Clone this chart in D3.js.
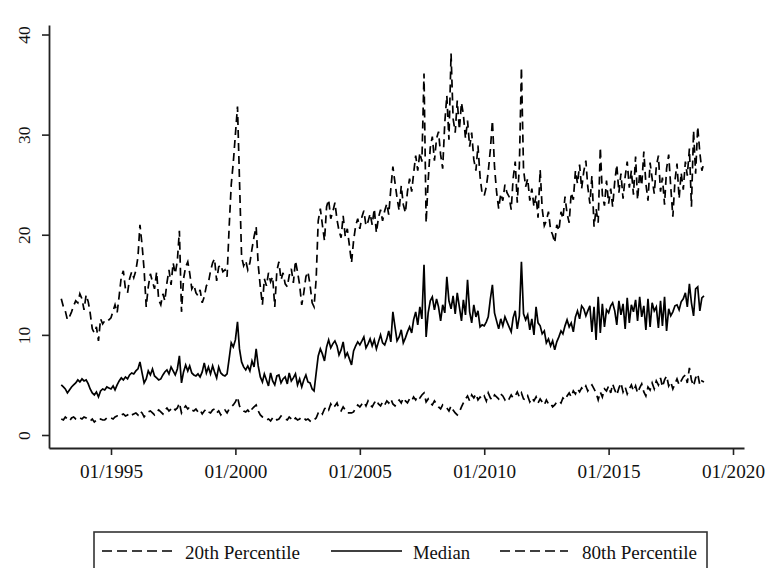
<!DOCTYPE html>
<html>
<head>
<meta charset="utf-8">
<script src="https://cdn.jsdelivr.net/npm/d3@7"></script>
<style>
  html, body { margin: 0; padding: 0; background: #fff; }
  svg { display: block; }
  text { font-family: "Liberation Serif", "Times New Roman", serif; fill: #111; }
</style>
</head>
<body>
<svg id="chart" width="766" height="568"></svg>
<script>
// Monthly series, 01/1993 .. 11/2018 (one row per year)
const firstMonth = new Date(1993, 0, 1);

const p20 = [
  1.6, 1.5, 1.8, 1.6, 1.4, 1.7, 1.8, 1.6, 1.5, 1.7, 1.6, 1.8,
  1.7, 1.5, 1.4, 1.6, 1.3, 1.5, 1.4, 1.6, 1.5, 1.5, 1.7, 1.6,
  1.7, 1.6, 1.8, 1.9, 1.8, 2.0, 2.1, 1.9, 2.0, 2.2, 2.0, 2.1,
  2.2, 2.0, 2.4, 2.2, 1.8, 2.1, 2.3, 2.4, 2.2, 2.0, 2.3, 2.5,
  2.3, 2.1, 2.5, 2.7, 2.4, 2.6, 2.8, 2.5, 2.7, 3.2, 2.2, 2.6,
  2.9, 2.6, 2.8, 2.5, 2.4, 2.6, 2.3, 2.5, 2.1, 2.4, 2.6, 2.3,
  2.2, 2.5, 2.6, 2.2, 2.4, 2.0, 2.3, 2.5, 2.2, 2.6, 2.8, 3.0,
  3.3, 3.8, 2.9, 2.6, 2.4, 2.3, 2.5, 2.2, 2.6, 2.8, 3.0, 2.4,
  2.0, 1.8, 1.7, 1.5, 1.6, 1.4, 1.7, 1.8, 1.5, 1.6, 1.9, 1.7,
  1.6, 1.5, 1.8, 1.6, 1.4, 1.7, 1.5, 1.6, 1.8, 1.7, 1.5, 1.6,
  1.4, 1.3, 1.5, 1.7, 2.2, 2.4, 2.1, 2.6, 2.8, 2.5, 3.1, 2.7,
  2.9, 3.2, 2.6, 2.4, 2.8, 2.5, 2.2, 2.2, 2.2, 2.3, 2.7, 3.0,
  2.8, 3.1, 3.3, 2.9, 3.4, 3.0, 2.8, 3.2, 3.5, 3.1, 2.9, 3.3,
  3.0, 3.4, 3.2, 3.6, 3.1, 2.9, 3.3, 3.5, 3.2, 3.7, 3.4, 3.2,
  3.6, 3.4, 3.8, 3.5, 3.9, 3.7, 4.0, 4.2, 3.3, 3.6, 3.2, 3.0,
  3.4, 3.1, 2.8, 2.6, 3.0, 2.8, 2.7, 2.4, 2.9, 2.5, 2.2, 2.0,
  2.3, 2.8, 3.2, 3.6, 3.9, 3.4, 4.0, 3.7, 4.1, 3.5, 3.8, 3.6,
  3.9, 3.4, 4.2, 3.7, 3.5, 4.0, 3.8, 3.6, 4.1, 3.9, 3.5, 3.8,
  3.6, 4.0, 3.7, 3.9, 4.3, 3.8, 4.2, 3.6, 3.5, 3.9, 3.3, 3.7,
  3.4, 3.8, 3.2, 3.6, 3.3, 3.0, 3.5, 3.1, 3.2, 2.8, 3.0, 3.3,
  3.4, 3.2, 3.7, 3.5, 3.9, 4.2, 3.8, 4.4, 4.1, 4.6, 4.3, 4.7,
  4.5, 4.9, 4.4, 4.8, 5.0, 4.6, 4.2, 3.5, 4.3, 3.8, 4.6, 4.4,
  4.9, 4.2, 5.1, 4.5, 4.0, 4.7, 5.2, 4.3, 4.8, 4.1, 4.6, 5.0,
  4.4, 4.9, 4.2, 4.7, 5.1, 4.3, 3.9, 4.8, 4.5, 5.2, 4.6, 5.4,
  5.0, 5.7, 4.8, 5.5, 5.9, 4.9, 5.3, 4.6, 5.1, 5.6, 5.0, 5.4,
  5.8, 6.0, 5.2, 6.7, 5.5, 4.9, 5.7, 6.1, 5.0, 5.4, 5.3
];

const p50 = [
  5.0, 4.8, 4.6, 4.2, 4.5, 4.8, 5.0, 5.2, 5.5, 5.3, 5.6, 5.4,
  5.5, 5.1, 4.6, 4.2, 4.0, 4.3, 3.8, 4.4, 4.6, 4.5, 4.8, 4.7,
  4.6, 4.9, 4.5, 5.0, 5.4, 5.7, 5.5, 5.8, 5.6, 6.0, 6.2, 6.1,
  6.4, 6.6, 7.3, 6.2, 5.2, 5.6, 6.4, 6.0, 6.6, 5.9, 5.7, 5.5,
  5.6, 6.0, 6.3, 6.5, 6.1, 6.8, 6.4, 6.0, 6.6, 7.9, 5.2, 6.3,
  7.0, 6.4, 6.9, 6.2, 6.0, 5.9, 6.1, 5.8, 6.3, 7.2, 6.2, 6.8,
  6.1, 6.9, 6.3, 5.7, 6.8, 6.2, 6.0, 5.9, 6.1, 7.6, 9.2, 8.8,
  9.5, 11.3, 8.6, 7.3, 6.8, 6.5, 6.9, 6.4, 7.4, 6.8, 8.6, 6.9,
  5.8, 5.3, 6.1, 5.5, 4.9, 6.2, 5.4, 5.0, 5.9, 6.0, 5.2, 5.6,
  5.8, 5.1, 6.2, 5.4, 5.7, 6.1, 5.0, 5.6, 4.8, 5.5, 6.0, 5.3,
  5.2, 4.6, 4.4, 6.2, 7.9, 8.6, 8.1, 7.4, 8.8, 9.5, 8.7, 9.1,
  9.4, 8.9, 8.0, 8.5, 9.3, 7.8, 8.2, 7.6, 7.0, 8.4, 8.9, 9.3,
  9.0, 9.4, 9.8, 8.7, 9.1, 9.6, 8.9, 9.5, 8.6, 9.3, 10.0, 9.2,
  9.0, 9.6, 10.4, 9.3, 12.3, 10.8, 9.4, 9.8, 10.5, 9.2, 9.7, 10.3,
  10.8, 10.2, 11.5, 12.3, 11.0, 12.8, 11.6, 17.0, 9.8, 12.2, 13.4, 13.8,
  12.5, 13.6, 12.8, 11.4, 13.0, 12.2, 15.8, 13.4, 12.6, 13.9, 12.1, 14.2,
  12.8, 11.4, 13.5, 12.0, 15.5, 12.3, 11.2, 13.0, 11.8, 12.4, 10.8, 11.0,
  10.9, 11.3, 11.8, 13.6, 15.0, 12.2, 11.4, 10.6, 11.6, 10.9, 11.8, 11.3,
  10.8, 10.3, 11.7, 12.4, 10.6, 11.9, 17.3, 12.1, 11.5, 12.0, 10.5, 11.6,
  10.0, 12.8, 11.2, 10.9, 10.1, 10.4, 9.2, 9.6, 8.9, 9.4, 8.5, 9.3,
  9.8, 10.4, 10.1, 10.9, 11.5, 10.8, 11.2, 10.3, 11.8, 12.4, 11.6, 12.9,
  12.6, 11.9, 12.4, 12.9, 10.3, 12.8, 9.5, 13.8, 10.2, 13.1, 10.8, 12.5,
  12.2, 12.9, 13.2, 12.4, 11.0, 13.4, 12.0, 13.1, 10.6, 13.7, 11.2, 13.0,
  12.3, 13.5, 11.4, 13.8, 11.8, 12.9, 10.5, 13.6, 10.8, 13.2, 12.4, 12.8,
  10.7, 13.4, 10.9, 13.8, 10.4, 12.6, 11.9, 12.3, 12.9, 13.0, 12.5, 13.3,
  13.6, 14.2, 12.8, 15.1, 13.2, 11.9, 14.6, 14.8, 12.4, 13.7, 13.9
];

const p80 = [
  13.6, 12.8, 12.4, 11.5, 11.8, 12.3, 12.9, 13.4, 13.2, 14.1, 13.6, 12.5,
  14.0, 13.3, 12.2, 10.6, 10.2, 10.8, 9.4, 11.6, 11.1, 11.4, 11.3, 11.5,
  11.7, 12.4, 13.0, 12.2, 13.9, 15.8, 16.4, 14.6, 14.2, 15.6, 16.3, 15.7,
  16.4, 17.8, 21.0, 19.0, 16.5, 12.8, 14.8, 16.1, 15.3, 14.6, 16.3, 13.5,
  13.0, 14.1, 13.4, 15.2, 16.5, 15.0, 17.2, 16.1, 17.4, 20.4, 12.3, 15.6,
  16.8, 17.3, 16.2, 14.6, 15.0, 14.2, 13.9, 14.5, 13.2, 13.8, 14.9, 15.2,
  16.4, 17.2, 17.6, 15.4, 16.8, 17.0, 16.3, 16.5, 15.8, 20.7, 25.0, 27.2,
  30.0, 32.8, 25.5, 17.8, 16.9, 17.4, 16.5, 17.2, 18.6, 19.8, 20.8, 17.0,
  14.8, 13.0, 15.6, 14.9, 16.2, 15.3, 15.8, 12.8, 16.4, 17.3, 15.5, 16.2,
  15.1, 14.8, 15.9, 16.6, 15.2, 17.4, 16.3, 15.0, 13.0, 14.2, 15.8, 16.3,
  15.0, 13.2, 12.8, 15.6, 21.4, 22.6, 21.0, 19.4, 22.8, 23.5, 21.6, 22.3,
  23.2, 21.5, 20.4, 19.7, 21.9, 19.8, 20.6, 18.9, 17.2, 19.4, 20.9, 21.6,
  20.6, 21.8, 22.4, 20.9, 21.3, 22.1, 21.0, 22.6, 20.2, 21.7, 22.5, 21.4,
  22.4, 23.1, 22.0, 24.6, 26.8, 25.2, 23.7, 22.4, 24.9, 23.0, 22.2, 24.3,
  25.6, 24.3, 26.1, 27.9, 26.4, 28.2, 27.3, 36.1, 21.2, 25.4, 28.7, 29.8,
  27.4, 29.6, 30.3, 28.0, 26.6, 31.2, 33.9, 29.5, 38.1, 31.6, 30.2, 33.4,
  30.5, 33.2, 32.0, 29.6, 31.4, 28.8, 30.2, 27.5, 26.4, 28.9, 25.8, 24.1,
  23.9, 24.8, 26.3, 28.5, 31.4, 26.8, 24.3, 22.6, 24.1, 23.4, 25.0, 24.2,
  23.8, 22.5, 25.6, 27.3, 23.2, 26.9, 36.7, 26.5, 24.8, 25.6, 23.4, 24.6,
  22.8, 23.9, 21.7, 26.5, 22.6, 20.9, 21.4, 22.3, 20.5, 20.0, 19.2, 21.0,
  20.4, 22.3, 21.6, 23.8, 22.1, 21.2, 24.2, 23.5, 26.4, 25.1, 27.0, 24.6,
  26.3, 27.4, 24.8, 23.1, 25.9, 20.8, 22.6, 21.2, 28.7, 24.0, 22.9, 25.4,
  23.1, 24.6, 22.8, 25.3, 27.0, 24.2, 26.1, 23.6, 25.8, 27.3, 24.7, 26.4,
  24.0, 27.8, 23.5, 26.2, 24.9, 28.3, 25.1, 23.4, 27.2, 25.6, 24.1, 26.8,
  27.9, 24.3, 25.7, 23.0, 26.6, 28.0, 24.8, 21.8, 25.4, 27.1, 23.6, 26.2,
  24.5, 27.3, 25.9, 28.6, 22.8, 30.4, 26.1, 30.8, 28.2, 26.4, 27.2
];

const yTicks = [0, 10, 20, 30, 40];
const xTickYears = [1995, 2000, 2005, 2010, 2015, 2020];
const seriesNames = ["20th Percentile", "Median", "80th Percentile"];

const svg = d3.select("#chart");

// Scales: anchor the labelled ticks, then stretch to the full axis lines
const xAnchor = d3.scaleTime()
  .domain([new Date(1995, 0, 1), new Date(2020, 0, 1)])
  .range([111, 733]);
const x = d3.scaleTime()
  .domain([xAnchor.invert(49), xAnchor.invert(744)])
  .range([49, 744]);

const yAnchor = d3.scaleLinear().domain([0, 40]).range([435, 34.5]);
const y = d3.scaleLinear()
  .domain([yAnchor.invert(448), yAnchor.invert(25)])
  .range([448, 25]);

const toPoints = vals => vals.map((v, i) => ({ date: d3.timeMonth.offset(firstMonth, i), v }));

const line = d3.line().x(d => x(d.date)).y(d => y(d.v));

const plot = svg.append("g");
const series = [
  { name: seriesNames[0], data: toPoints(p20), dash: "8,5" },
  { name: seriesNames[1], data: toPoints(p50), dash: null },
  { name: seriesNames[2], data: toPoints(p80), dash: "8,5" }
];
plot.selectAll("path.series")
  .data(series)
  .join("path")
  .attr("class", "series")
  .attr("d", d => line(d.data))
  .attr("fill", "none")
  .attr("stroke", "#000")
  .attr("stroke-width", 1.7)
  .attr("stroke-linejoin", "miter")
  .attr("stroke-dasharray", d => d.dash);

// Y axis with rotated labels
const yAxis = svg.append("g")
  .attr("transform", "translate(49,0)")
  .call(d3.axisLeft(y).tickValues(yTicks).tickSize(7).tickSizeOuter(0).tickFormat(d3.format("d")));
yAxis.select(".domain").attr("stroke", "#222").attr("stroke-width", 1.8);
yAxis.selectAll(".tick line").attr("stroke", "#222").attr("stroke-width", 1.6);
yAxis.selectAll(".tick text")
  .attr("x", null).attr("dy", null)
  .attr("text-anchor", "middle")
  .attr("transform", "translate(-19.5,0) rotate(-90)")
  .style("font-family", "'Liberation Serif', serif")
  .style("font-size", "17.5px")
  .attr("fill", "#111");

// X axis
const xAxis = svg.append("g")
  .attr("transform", "translate(0,448)")
  .call(d3.axisBottom(x)
    .tickValues(xTickYears.map(yr => new Date(yr, 0, 1)))
    .tickSize(7).tickSizeOuter(0)
    .tickFormat(d3.timeFormat("%m/%Y")));
xAxis.select(".domain").attr("stroke", "#222").attr("stroke-width", 1.8);
xAxis.selectAll(".tick line").attr("stroke", "#222").attr("stroke-width", 1.6);
xAxis.selectAll(".tick text")
  .attr("y", 30).attr("dy", null)
  .style("font-family", "'Liberation Serif', serif")
  .style("font-size", "18px")
  .attr("textLength", 63)
  .attr("lengthAdjust", "spacingAndGlyphs")
  .attr("fill", "#111");

// Legend
const legend = svg.append("g");
legend.append("rect")
  .attr("x", 94).attr("y", 532).attr("width", 613).attr("height", 50)
  .attr("fill", "none").attr("stroke", "#333").attr("stroke-width", 1.6);

const legendItems = [
  { name: seriesNames[0], x1: 102, x2: 172, tx: 185, tw: 115, dash: "10,5" },
  { name: seriesNames[1], x1: 331, x2: 402, tx: 413, tw: 57, dash: null },
  { name: seriesNames[2], x1: 500, x2: 568, tx: 582, tw: 115, dash: "10,5" }
];
const li = legend.selectAll("g.item").data(legendItems).join("g").attr("class", "item");
li.append("line")
  .attr("x1", d => d.x1).attr("x2", d => d.x2)
  .attr("y1", 551).attr("y2", 551)
  .attr("stroke", "#000").attr("stroke-width", 1.5)
  .attr("stroke-dasharray", d => d.dash);
li.append("text")
  .attr("x", d => d.tx).attr("y", 558.5)
  .attr("textLength", d => d.tw)
  .attr("lengthAdjust", "spacingAndGlyphs")
  .style("font-size", "18.5px")
  .text(d => d.name);
</script>
</body>
</html>
